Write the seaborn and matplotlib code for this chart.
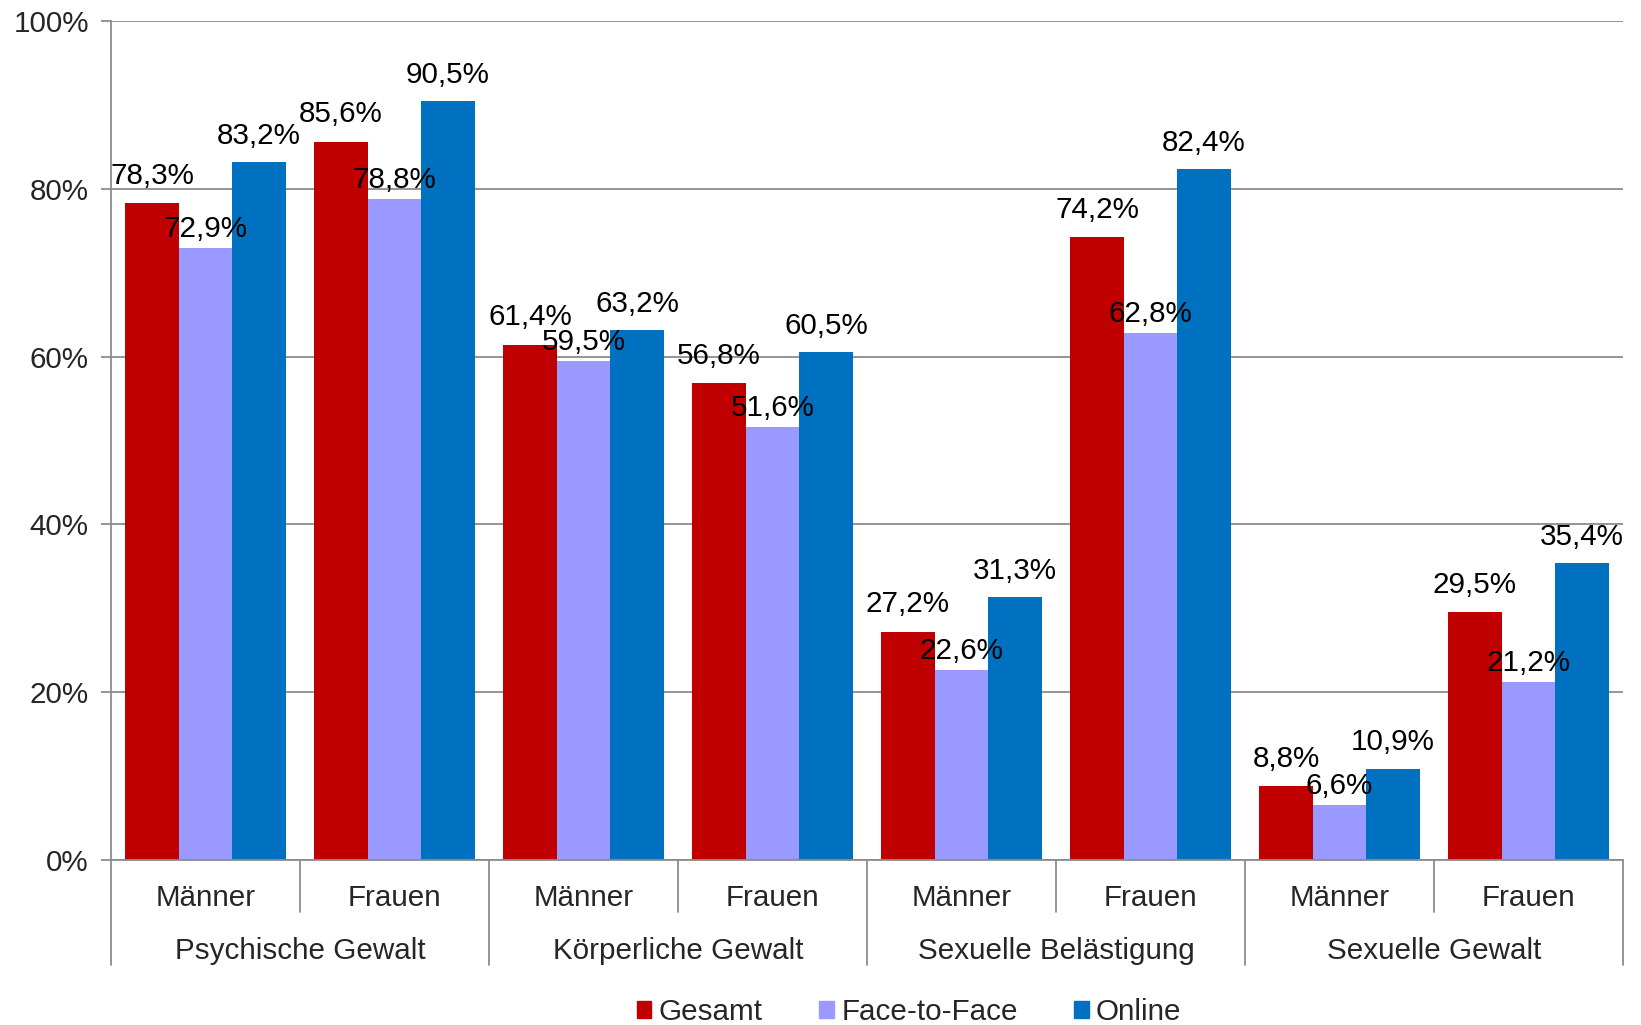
import numpy as np
import pandas as pd
import matplotlib
matplotlib.use("Agg")
import matplotlib.pyplot as plt
from matplotlib.transforms import blended_transform_factory
import seaborn as sns

# Data
violence_types = ["Psychische Gewalt", "Körperliche Gewalt", "Sexuelle Belästigung", "Sexuelle Gewalt"]
genders = ["Männer", "Frauen"]
series = ["Gesamt", "Face-to-Face", "Online"]
gesamt = [78.3, 85.6, 61.4, 56.8, 27.2, 74.2, 8.8, 29.5]
face_to_face = [72.9, 78.8, 59.5, 51.6, 22.6, 62.8, 6.6, 21.2]
online = [83.2, 90.5, 63.2, 60.5, 31.3, 82.4, 10.9, 35.4]
y_ticks = [0, 20, 40, 60, 80, 100]
colors = ["#C00000", "#9999FF", "#0070C0"]

slots = [f"{v}|{g}" for v in violence_types for g in genders]
rows = []
for name, vals in zip(series, [gesamt, face_to_face, online]):
    for slot, v in zip(slots, vals):
        rows.append({"slot": slot, "series": name, "value": v})
df = pd.DataFrame(rows)

sns.set_theme(style="white")
plt.rcParams["font.family"] = ["Liberation Sans", "DejaVu Sans"]
FS = 21.3

fig = plt.figure(figsize=(16.41, 10.25), dpi=100)
ax = fig.add_axes([111 / 1641, 165 / 1025, 1512 / 1641, 839 / 1025])

sns.barplot(data=df, x="slot", y="value", hue="series", order=slots,
            hue_order=series, palette=colors, width=0.85, gap=0,
            linewidth=0, saturation=1, legend=False, ax=ax)

grid_color = "#8C8C8C"
ax.set_ylim(0, 100)
ax.set_xlim(-0.5, len(slots) - 0.5)
ax.set_yticks(y_ticks)
ax.set_yticklabels([f"{t}%" for t in y_ticks], fontsize=FS)
ax.yaxis.grid(True, color=grid_color, linewidth=1.3)
ax.set_axisbelow(True)
ax.tick_params(axis="y", length=7, width=1.3, color=grid_color, pad=9, left=True)
ax.set_xticks([])
ax.set_xlabel("")
ax.set_ylabel("")
for side in ["top", "right"]:
    ax.spines[side].set_visible(False)
ax.spines["left"].set_color(grid_color)
ax.spines["left"].set_linewidth(1.3)
ax.spines["bottom"].set_color(grid_color)
ax.spines["bottom"].set_linewidth(1.3)

# Value labels above each bar
offsets_pt = [14, 8, 13]
for container, offs in zip(ax.containers, offsets_pt):
    for bar in container:
        h = bar.get_height()
        ax.annotate(f"{h:.1f}".replace(".", ",") + "%",
                    (bar.get_x() + bar.get_width() / 2, h),
                    xytext=(0, offs), textcoords="offset points",
                    ha="center", va="baseline", fontsize=FS, color="black")

# Two-level category axis
trans = blended_transform_factory(ax.transData, ax.transAxes)
for i, slot in enumerate(slots):
    ax.text(i, -0.045, slot.split("|")[1], transform=trans, ha="center",
            va="center", fontsize=FS)
for j, vt in enumerate(violence_types):
    ax.text(2 * j + 0.5, -0.108, vt, transform=trans, ha="center",
            va="center", fontsize=FS)
for j in range(len(violence_types)):
    ax.plot([2 * j + 0.5] * 2, [0, -0.062], transform=trans, color=grid_color,
            linewidth=1.3, clip_on=False)
for j in range(len(violence_types) + 1):
    ax.plot([2 * j - 0.5] * 2, [0, -0.125], transform=trans, color=grid_color,
            linewidth=1.3, clip_on=False)

# Legend
handles = [plt.Rectangle((0, 0), 1, 1, color=c) for c in colors]
fig.legend(handles, series, loc="center", bbox_to_anchor=(0.554, 1 - 1012 / 1025),
           ncol=3, frameon=False, fontsize=FS, handlelength=0.5, handleheight=0.5,
           handletextpad=0.25, columnspacing=1.9, borderpad=0)

fig.savefig("out.png", dpi=100)
